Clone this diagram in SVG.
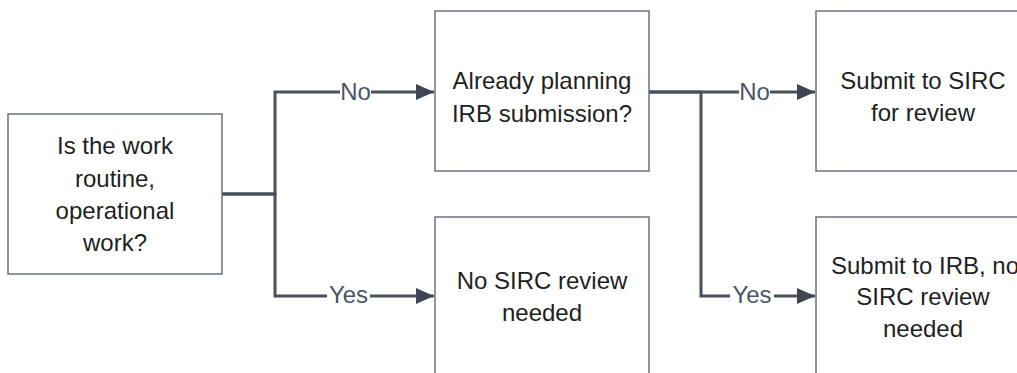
<svg xmlns="http://www.w3.org/2000/svg" width="1017" height="373" viewBox="0 0 1017 373">
<style>
.box{fill:#ffffff;stroke:#6b7280;stroke-width:1.5}
.nt{font-family:"Liberation Sans",Arial,sans-serif;font-size:24px;fill:#1f1f1f;text-anchor:middle}
.conn{fill:none;stroke:#47505c;stroke-width:3}
.lbl{font-family:"Liberation Sans",Arial,sans-serif;font-size:24px;fill:#4b5563;text-anchor:middle}
.bg{fill:#ffffff}
</style>
<defs>
<marker id="arr" markerUnits="userSpaceOnUse" markerWidth="18" markerHeight="18" viewBox="0 0 18 18" refX="18" refY="9" orient="auto">
<path d="M0,1 L18,9 L0,17 Z" fill="#3d4652"/>
</marker>
</defs>
<rect width="1017" height="373" fill="#ffffff"/>
<g id="connectors">
<path class="conn" d="M222,194 H275 V92 H434" marker-end="url(#arr)"/>
<path class="conn" d="M222,194 H275 V296 H434" marker-end="url(#arr)"/>
<path class="conn" d="M649,92 H701 H815" marker-end="url(#arr)"/>
<path class="conn" d="M649,92 H701 V296 H815" marker-end="url(#arr)"/>
<rect class="bg" x="340" y="80" width="31" height="22"/>
<text class="lbl" x="355.5" y="100">No</text>
<rect class="bg" x="327" y="284" width="43" height="22"/>
<text class="lbl" x="348.5" y="303">Yes</text>
<rect class="bg" x="739" y="80" width="31" height="22"/>
<text class="lbl" x="754.5" y="100">No</text>
<rect class="bg" x="730" y="284" width="44" height="22"/>
<text class="lbl" x="752" y="303">Yes</text>
</g>
<g id="n1">
<rect class="box" x="8" y="114" width="214" height="160"/>
<text class="nt" x="115" y="154">Is the work</text>
<text class="nt" x="115" y="186.5">routine,</text>
<text class="nt" x="115" y="218.5">operational</text>
<text class="nt" x="115" y="250.5">work?</text>
</g>
<g id="n2">
<rect class="box" x="435" y="11" width="214" height="160"/>
<text class="nt" x="542" y="89">Already planning</text>
<text class="nt" x="542" y="121.5">IRB submission?</text>
</g>
<g id="n3">
<rect class="box" x="435" y="217" width="214" height="160"/>
<text class="nt" x="542" y="288.5">No SIRC review</text>
<text class="nt" x="542" y="320.5">needed</text>
</g>
<g id="n4">
<rect class="box" x="816" y="11" width="214" height="160"/>
<text class="nt" x="923" y="88.5">Submit to SIRC</text>
<text class="nt" x="923" y="120.5">for review</text>
</g>
<g id="n5">
<rect class="box" x="816" y="217" width="214" height="160"/>
<text class="nt" x="925" y="273.5">Submit to IRB, no</text>
<text class="nt" x="923" y="305">SIRC review</text>
<text class="nt" x="923" y="337">needed</text>
</g>
</svg>
